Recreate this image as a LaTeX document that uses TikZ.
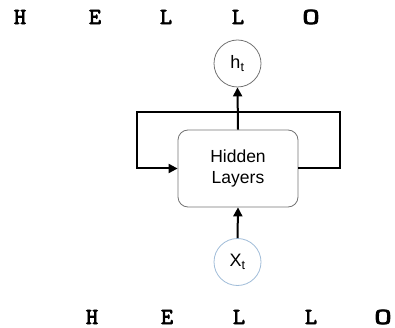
\documentclass[tikz,border=0pt]{standalone}
\usepackage{fontspec}
\usepackage{graphicx}
\setmainfont{Liberation Sans}
\newfontfamily\typew[FakeBold=3]{lmmono10-regular.otf}
\usetikzlibrary{arrows.meta}
\newcommand{\wideO}{\scalebox{1.45}[1]{O}}
\begin{document}
\begin{tikzpicture}[x=1pt,y=-1pt,
  letter/.style={font=\typew\fontsize{23}{23}\selectfont, inner sep=0pt, anchor=center},
  circ/.style={circle, draw=black!55, line width=0.8pt, minimum size=47pt, inner sep=0pt, font=\fontsize{18}{18}\selectfont},
  hbox/.style={rectangle, rounded corners=10pt, draw=black!55, line width=0.8pt, minimum width=120pt, minimum height=77pt, align=center, font=\fontsize{17.5}{21}\selectfont},
  conn/.style={line width=2pt, -{Triangle[length=9pt,width=9pt]}}
]
\useasboundingbox (0,0) rectangle (395,328);
% top word
\node[letter] (t1) at (20,17) {H};
\node[letter] (t2) at (95,17) {E};
\node[letter] (t3) at (166,17) {L};
\node[letter] (t4) at (238,17) {L};
\node[letter] (t5) at (311,17) {\wideO};
% bottom word
\node[letter] (b1) at (92,317) {H};
\node[letter] (b2) at (167,317) {E};
\node[letter] (b3) at (239,317) {L};
\node[letter] (b4) at (311,317) {L};
\node[letter] (b5) at (383,317) {\wideO};
% nodes
\node[circ] (ht) at (237.5,63.5) {h\textsubscript{t}};
\node[hbox] (hl) at (238,168.5) {Hidden\\Layers};
\node[circ, draw={rgb,255:red,160;green,188;blue,216}] (xt) at (237.5,262) {X\textsubscript{t}};
\coordinate (r) at (340,112);
\coordinate (l) at (137,112);
% connectors
\draw[conn] (hl.north) -- (ht.south);
\draw[conn] (xt.north) -- (hl.south);
\draw[conn, rounded corners=0pt] (hl.east) -| (r) -- (l) |- (hl.west);
\end{tikzpicture}
\end{document}
